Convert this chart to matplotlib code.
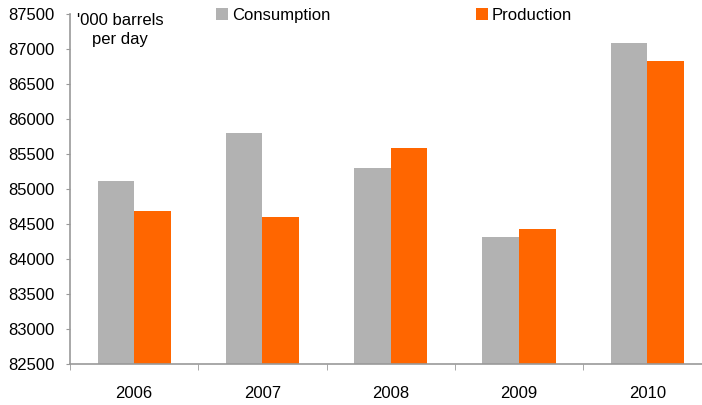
import numpy as np
import matplotlib.pyplot as plt
from matplotlib.ticker import FixedLocator

# -----------------------------------
# Data
# -----------------------------------
years = ["2006", "2007", "2008", "2009", "2010"]
consumption = [85120, 85800, 85300, 84315, 87080]
production = [84685, 84600, 85580, 84425, 86825]

GREY = "#b2b2b2"
ORANGE = "#ff6600"
SPINE = "#999999"

plt.rcParams["font.family"] = ["Liberation Sans", "DejaVu Sans"]
plt.rcParams["font.size"] = 12

W, H = 702, 405
fig = plt.figure(figsize=(W / 100, H / 100), dpi=100)
ax = fig.add_axes([70 / W, 1 - 364 / H, 641.5 / W, 350 / H])

x = np.arange(len(years))
bw = 0.285
ax.bar(x - bw / 2, consumption, bw, color=GREY, label="Consumption")
ax.bar(x + bw / 2, production, bw, color=ORANGE, label="Production")

ax.set_ylim(82500, 87500)
ax.set_xlim(-0.5, len(years) - 0.5)
ax.set_yticks(np.arange(82500, 87501, 500))

ax.set_xticks(x)
ax.set_xticklabels(years)
ax.xaxis.set_minor_locator(FixedLocator(np.arange(-0.5, len(years), 1.0)))
ax.tick_params(axis="x", which="major", length=0, pad=16)
ax.tick_params(axis="x", which="minor", length=4, color=SPINE, direction="out")
ax.tick_params(axis="y", length=3, color=SPINE, pad=8)

for s in ["top", "right"]:
    ax.spines[s].set_visible(False)
for s in ["left", "bottom"]:
    ax.spines[s].set_color(SPINE)
    ax.spines[s].set_linewidth(1.2)

fig.text(120 / W, 1 - 13 / H, "'000 barrels\nper day", ha="center", va="top",
         multialignment="center", linespacing=1.3)

ax.legend(loc="upper left", bbox_to_anchor=(216 / W, 1 - 8 / H),
          bbox_transform=fig.transFigure, ncol=2, frameon=False,
          borderpad=0, borderaxespad=0, handlelength=0.7, handleheight=0.7,
          handletextpad=0.25, columnspacing=8.75)

fig.savefig("out.png", dpi=100)
